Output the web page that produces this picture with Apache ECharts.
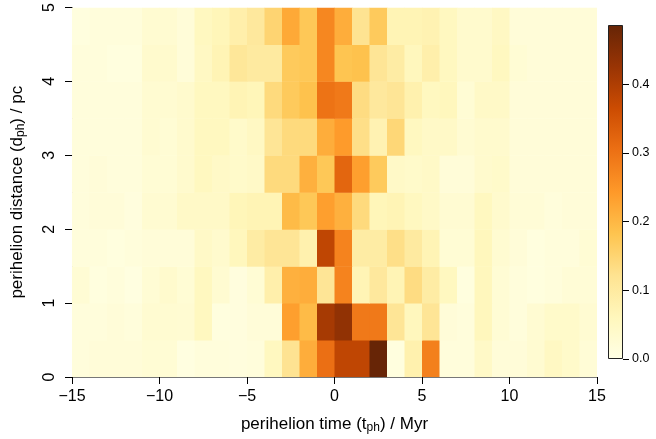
<!DOCTYPE html>
<html>
<head>
<meta charset="utf-8">
<script src="https://cdn.jsdelivr.net/npm/echarts@6/dist/echarts.min.js"></script>
<style>
html, body { margin: 0; padding: 0; background: #fff; }
#chart { width: 656px; height: 439px; }
</style>
</head>
<body>
<div id="chart"></div>
<script>
// cell centres (time in Myr, distance in pc)
var timeCentres = [-14.5, -13.5, -12.5, -11.5, -10.5, -9.5, -8.5, -7.5, -6.5, -5.5,
                   -4.5, -3.5, -2.5, -1.5, -0.5, 0.5, 1.5, 2.5, 3.5, 4.5,
                   5.5, 6.5, 7.5, 8.5, 9.5, 10.5, 11.5, 12.5, 13.5, 14.5];
var distCentres = [0.25, 0.75, 1.25, 1.75, 2.25, 2.75, 3.25, 3.75, 4.25, 4.75];

// density per row (left to right, t = -15 .. 15)
var rowD0_25 = [0.015,0.02,0.02,0.02,0.025,0.025,0.008,0.015,0.015,0.012,
                0.015,0.055,0.12,0.215,0.305,0.38,0.38,0.485,0.01,0.08,
                0.28,0.015,0.015,0.045,0.02,0.02,0.03,0.05,0.04,0.022];
var rowD0_75 = [0.015,0.015,0.02,0.015,0.03,0.03,0.028,0.055,0.01,0.012,
                0.02,0.02,0.235,0.195,0.41,0.435,0.29,0.29,0.115,0.06,
                0.115,0.02,0.015,0.06,0.025,0.015,0.028,0.04,0.04,0.028];
var rowD1_25 = [0.025,0.01,0.015,0.008,0.025,0.035,0.025,0.055,0.03,0.012,
                0.025,0.085,0.21,0.215,0.115,0.275,0.07,0.105,0.07,0.135,
                0.095,0.055,0.01,0.06,0.025,0.015,0.01,0.015,0.022,0.022];
var rowD1_75 = [0.015,0.015,0.01,0.015,0.02,0.02,0.02,0.045,0.035,0.06,
                0.095,0.115,0.115,0.08,0.38,0.275,0.095,0.095,0.13,0.10,
                0.07,0.025,0.025,0.06,0.03,0.02,0.01,0.015,0.015,0.025];
var rowD2_25 = [0.015,0.02,0.02,0.012,0.03,0.03,0.045,0.045,0.045,0.065,
                0.07,0.07,0.195,0.175,0.235,0.21,0.14,0.065,0.07,0.055,
                0.045,0.028,0.028,0.055,0.035,0.022,0.022,0.015,0.02,0.02];
var rowD2_75 = [0.015,0.02,0.015,0.015,0.025,0.025,0.035,0.055,0.045,0.04,
                0.045,0.14,0.14,0.21,0.175,0.32,0.235,0.17,0.045,0.04,
                0.045,0.02,0.02,0.035,0.04,0.02,0.02,0.02,0.02,0.02];
var rowD3_25 = [0.015,0.015,0.015,0.015,0.03,0.025,0.035,0.055,0.055,0.04,
                0.05,0.115,0.14,0.14,0.215,0.24,0.13,0.075,0.145,0.055,
                0.045,0.045,0.028,0.035,0.035,0.02,0.02,0.02,0.02,0.02];
var rowD3_75 = [0.015,0.015,0.015,0.015,0.03,0.03,0.035,0.055,0.055,0.07,
                0.065,0.14,0.17,0.185,0.30,0.29,0.135,0.105,0.115,0.08,
                0.055,0.06,0.025,0.045,0.045,0.02,0.02,0.02,0.02,0.02];
var rowD4_25 = [0.015,0.015,0.01,0.01,0.035,0.035,0.02,0.05,0.07,0.11,
                0.10,0.10,0.17,0.175,0.27,0.18,0.185,0.115,0.095,0.06,
                0.085,0.055,0.035,0.035,0.055,0.025,0.02,0.02,0.02,0.02];
var rowD4_75 = [0.01,0.015,0.015,0.015,0.03,0.03,0.02,0.055,0.065,0.085,
                0.105,0.15,0.22,0.175,0.27,0.215,0.12,0.17,0.07,0.07,
                0.075,0.055,0.035,0.035,0.05,0.02,0.02,0.02,0.02,0.02];

var rows = [rowD0_25, rowD0_75, rowD1_25, rowD1_75, rowD2_25,
            rowD2_75, rowD3_25, rowD3_75, rowD4_25, rowD4_75];

var xTicks = [-15, -10, -5, 0, 5, 10, 15];
var yTicks = [0, 1, 2, 3, 4, 5];
var scaleMax = 0.486;

var cellW = 1, cellH = 0.5;
var palette = ['#ffffe5','#fff7bc','#fee391','#fec44f','#fe9929','#ec7014','#cc4c02','#993404','#662506'];
var fontName = 'Liberation Sans, Arial, Helvetica, sans-serif';

var cells = [];
for (var j = 0; j < rows.length; j++) {
	for (var i = 0; i < timeCentres.length; i++) {
		cells.push([timeCentres[i], distCentres[j], rows[j][i]]);
	}
}

function minusSign(v) {
	return String(v).replace('-', '\u2212');
}

function drawCell(params, api) {
	var x = api.value(0), y = api.value(1);
	var a = api.coord([x - cellW / 2, y + cellH / 2]);
	var b = api.coord([x + cellW / 2, y - cellH / 2]);
	return {
		type: 'rect',
		shape: { x: a[0], y: a[1], width: b[0] - a[0] + 0.5, height: b[1] - a[1] + 0.5 },
		style: { fill: api.visual('color') }
	};
}

// gradient for the colour bar, top = max
var stops = [];
for (var k = 0; k < palette.length; k++) {
	stops.push({ offset: 1 - k / (palette.length - 1), color: palette[k] });
}

var titleStyle = {
	color: '#000', fontSize: 17, fontFamily: fontName,
	rich: { sub: { fontSize: 12, padding: [8, 0, 0, 0], color: '#000', fontFamily: fontName } }
};

var myChart = echarts.init(document.getElementById('chart'));
var option = {
	animation: false,
	backgroundColor: '#ffffff',
	textStyle: { fontFamily: fontName },
	grid: [
		{ left: 72, top: 7, width: 525, height: 371 },
		{ left: 608, top: 25, width: 15, height: 334 }
	],
	visualMap: {
		show: false,
		type: 'continuous',
		seriesIndex: 0,
		dimension: 2,
		min: 0,
		max: scaleMax,
		inRange: { color: palette }
	},
	xAxis: [{
		gridIndex: 0,
		type: 'value',
		min: xTicks[0],
		max: xTicks[xTicks.length - 1],
		interval: 5,
		name: 'perihelion time (t{sub|ph}) / Myr',
		nameLocation: 'middle',
		nameGap: 37,
		nameTextStyle: titleStyle,
		axisLine: { show: true, onZero: false, lineStyle: { color: '#777', width: 1 } },
		axisTick: { show: true, length: 7, lineStyle: { color: '#000', width: 1 } },
		axisLabel: { color: '#000', fontSize: 16, margin: 12, fontFamily: fontName, formatter: minusSign },
		splitLine: { show: false }
	}, {
		gridIndex: 1,
		type: 'category',
		data: [''],
		show: false
	}],
	yAxis: [{
		gridIndex: 0,
		type: 'value',
		min: yTicks[0],
		max: yTicks[yTicks.length - 1],
		interval: 1,
		name: 'perihelion distance (d{sub|ph}) / pc',
		nameLocation: 'middle',
		nameRotate: 90,
		nameGap: 45,
		nameTextStyle: titleStyle,
		axisLine: { show: true, onZero: false, lineStyle: { color: '#777', width: 1 } },
		axisTick: { show: true, length: 7, lineStyle: { color: '#000', width: 1 } },
		axisLabel: { color: '#000', fontSize: 16, margin: 14, rotate: 90, fontFamily: fontName },
		splitLine: { show: false }
	}, {
		gridIndex: 1,
		type: 'value',
		position: 'right',
		min: 0,
		max: scaleMax,
		interval: 0.1,
		axisLine: { show: false },
		axisTick: { show: true, length: 6, lineStyle: { color: '#000', width: 1 } },
		axisLabel: {
			color: '#000', fontSize: 12.5, margin: 9, fontFamily: fontName,
			showMaxLabel: false,
			formatter: function (v) { return v.toFixed(1); }
		},
		splitLine: { show: false }
	}],
	series: [{
		type: 'custom',
		xAxisIndex: 0,
		yAxisIndex: 0,
		renderItem: drawCell,
		encode: { x: 0, y: 1 },
		clip: true,
		data: cells
	}, {
		type: 'bar',
		xAxisIndex: 1,
		yAxisIndex: 1,
		barWidth: '100%',
		silent: true,
		itemStyle: {
			color: new echarts.graphic.LinearGradient(0, 0, 0, 1, stops),
			borderColor: '#222',
			borderWidth: 1
		},
		data: [scaleMax]
	}]
};
myChart.setOption(option);
</script>
</body>
</html>
